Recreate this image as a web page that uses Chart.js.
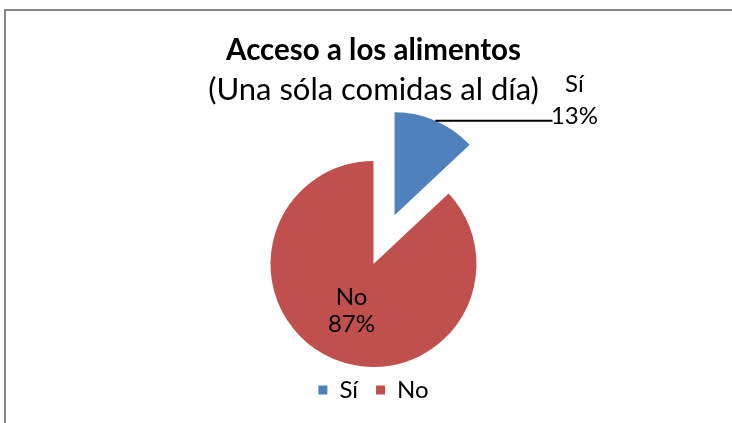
<!DOCTYPE html>
<html><head><meta charset="utf-8">
<script src="https://cdn.jsdelivr.net/npm/chart.js@4"></script>
<style>html,body{margin:0;padding:0;background:#fff;overflow:hidden}canvas{display:block}</style>
</head><body>
<canvas id="c" width="732" height="423"></canvas>
<script>
const categories = ['Sí', 'No'];
const values = [13, 87];
const colors = ['#4F81BD', '#C0504D'];
const titleText = 'Acceso a los alimentos';
const subtitleText = '(Una sóla comidas al día)';

const FONT = 'Lato, "Open Sans", sans-serif';
const EXPLODE_INDEX = 0;      // slice pulled out of the pie
const EXPLODE_DIST = 53;      // px
const total = values.reduce((a, b) => a + b, 0);
const percentLabels = values.map(v => Math.round(v / total * 100) + '%');

const frame = {
  id: 'frame',
  beforeDraw(chart) {
    const ctx = chart.ctx;
    ctx.save();
    ctx.fillStyle = '#fff';
    ctx.fillRect(0, 0, chart.width, chart.height);
    ctx.strokeStyle = '#878787';
    ctx.lineWidth = 2;
    ctx.beginPath();
    ctx.moveTo(5, chart.height);
    ctx.lineTo(5, 10);
    ctx.lineTo(chart.width, 10);
    ctx.stroke();
    ctx.restore();
  }
};

// Explode one slice by translating its drawing (radius unchanged)
const explode = {
  id: 'explode',
  afterUpdate(chart) {
    const arc = chart.getDatasetMeta(0).data[EXPLODE_INDEX];
    if (!arc || arc._exploded) return;
    const baseDraw = arc.draw;
    arc.draw = function (ctx, area) {
      const mid = (this.startAngle + this.endAngle) / 2;
      ctx.save();
      ctx.translate(Math.cos(mid) * EXPLODE_DIST, Math.sin(mid) * EXPLODE_DIST);
      baseDraw.call(this, ctx, area);
      ctx.restore();
    };
    arc._exploded = true;
  }
};

const sliceLabels = {
  id: 'sliceLabels',
  afterDatasetsDraw(chart) {
    const meta = chart.getDatasetMeta(0);
    const ctx = chart.ctx;
    ctx.save();
    ctx.font = '24px ' + FONT;
    ctx.fillStyle = '#000';
    ctx.textAlign = 'center';
    ctx.textBaseline = 'middle';
    meta.data.forEach((arc, i) => {
      const p = arc.getProps(['x', 'y', 'startAngle', 'endAngle', 'outerRadius'], true);
      const mid = (p.startAngle + p.endAngle) / 2;
      const shift = i === EXPLODE_INDEX ? EXPLODE_DIST : 0;
      const cx = p.x + Math.cos(mid) * shift;
      const cy = p.y + Math.sin(mid) * shift;
      if (shift > 0) {
        const sx = cx + Math.cos(mid) * p.outerRadius;
        const sy = cy + Math.sin(mid) * p.outerRadius;
        const ex = sx + 117;
        ctx.strokeStyle = '#000';
        ctx.lineWidth = 2;
        ctx.beginPath();
        ctx.moveTo(sx, sy);
        ctx.lineTo(ex, sy);
        ctx.stroke();
        ctx.fillText(categories[i], ex + 22, sy - 37);
        ctx.fillText(percentLabels[i], ex + 22, sy - 5);
      } else {
        const r = p.outerRadius * 0.49;
        const lx = cx + Math.cos(mid) * r;
        const ly = cy + Math.sin(mid) * r;
        ctx.fillText(categories[i], lx - 2, ly - 13);
        ctx.fillText(percentLabels[i], lx - 2, ly + 14);
      }
    });
    ctx.restore();
  }
};

new Chart(document.getElementById('c'), {
  type: 'pie',
  data: {
    labels: categories,
    datasets: [{
      data: values,
      backgroundColor: colors,
      borderWidth: 0,
      hoverOffset: 0,
      radius: 103
    }]
  },
  options: {
    responsive: false,
    animation: false,
    events: [],
    layout: { padding: { left: 15, right: 0, top: 0, bottom: 11 } },
    plugins: {
      title: {
        display: true, text: titleText, color: '#000',
        font: { family: FONT, size: 29.5, weight: 'bold' },
        padding: { top: 32.3, bottom: 3.7 }
      },
      subtitle: {
        display: true, text: subtitleText, color: '#000',
        font: { family: FONT, size: 31, weight: 'normal' },
        padding: { top: 0, bottom: 59.4 }
      },
      legend: {
        position: 'bottom',
        labels: {
          boxWidth: 9, boxHeight: 9, color: '#000', padding: 18,
          font: { family: FONT, size: 24 }
        }
      },
      tooltip: { enabled: false }
    }
  },
  plugins: [frame, explode, sliceLabels]
});
</script>
</body></html>
